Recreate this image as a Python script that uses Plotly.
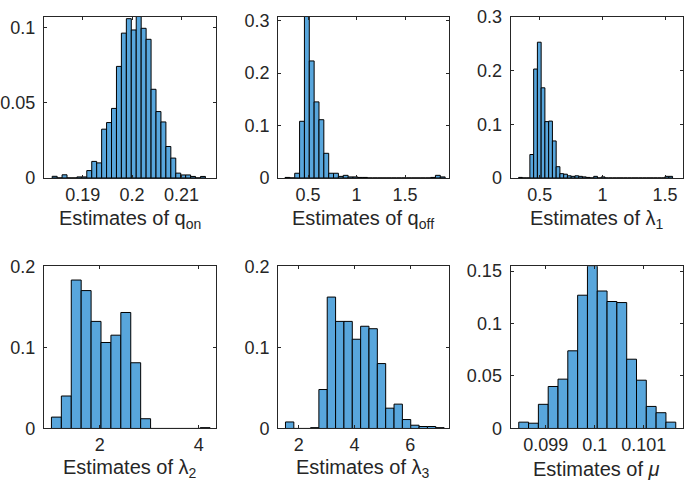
import plotly.graph_objects as go

# ---------------- data (bin start, bin width, probability per bin) ----------------
qon_start = 0.18383
qon_width = 0.001
qon_prob = [0.0011, 0, 0.0021, 0, 0, 0.0007, 0.0007, 0.0049, 0.011, 0.010,
            0.0324, 0.0368, 0.0462, 0.0741, 0.0962, 0.1058, 0.0983, 0.1075,
            0.0994, 0.0921, 0.0589, 0.0441, 0.0372, 0.0209, 0.0132, 0.0032,
            0.002, 0.002, 0.001, 0, 0.001]

qoff_start = 0.2624
qoff_width = 0.05
qoff_prob = [0.001, 0, 0.009, 0.108, 0.316, 0.223, 0.145, 0.111, 0.047, 0.009,
             0.009, 0.003, 0.005, 0.002, 0.002, 0.001, 0.001,
             0, 0, 0, 0, 0, 0, 0, 0, 0, 0, 0, 0, 0,
             0.001, 0.005, 0.002]

lam1_start = 0.3302
lam1_width = 0.03
lam1_prob = [0.001, 0, 0, 0.0437, 0.203, 0.253, 0.168, 0.105, 0.106, 0.069,
             0.021, 0.008, 0.007, 0.004, 0.003, 0.004, 0.003, 0.002, 0.001, 0,
             0.003, 0, 0.002,
             0, 0, 0, 0, 0, 0, 0, 0, 0, 0, 0, 0, 0, 0, 0, 0,
             0.003, 0.003]

lam2_start = 1.028
lam2_width = 0.2
lam2_prob = [0.014, 0.040, 0.183, 0.170, 0.132, 0.106, 0.115, 0.143, 0.081,
             0.012, 0, 0, 0, 0, 0, 0.001]

lam3_start = 1.52
lam3_width = 0.3
lam3_prob = [0.008, 0, 0, 0.001, 0.048, 0.162, 0.132, 0.132, 0.110, 0.126,
             0.123, 0.080, 0.025, 0.030, 0.011, 0.004, 0.0024, 0.0024, 0.001]

mu_start = 0.098451
mu_width = 0.0002
mu_prob = [0.006, 0.005, 0.023, 0.040, 0.047, 0.074, 0.127, 0.155, 0.131,
           0.121, 0.120, 0.066, 0.046, 0.021, 0.015, 0.006]

# tick labels
qon_xticks = [0.19, 0.2, 0.21]
qoff_xticks = [0.5, 1, 1.5]
lam1_xticks = [0.5, 1, 1.5]
lam2_xticks = [2, 4]
lam3_xticks = [2, 4, 6]
mu_xticks = [0.099, 0.1, 0.101]

qon_yticks = [0, 0.05, 0.1]
qoff_yticks = [0, 0.1, 0.2, 0.3]
lam1_yticks = [0, 0.1, 0.2, 0.3]
lam2_yticks = [0, 0.1, 0.2]
lam3_yticks = [0, 0.1, 0.2]
mu_yticks = [0, 0.05, 0.1, 0.15]

titles = ["Estimates of q<sub>on</sub>", "Estimates of q<sub>off</sub>",
          "Estimates of λ<sub>1</sub>", "Estimates of λ<sub>2</sub>",
          "Estimates of λ<sub>3</sub>", "Estimates of <i>μ</i>"]

# ---------------- layout geometry ----------------
W, H = 685, 497
cols_px = [(42, 215), (277, 448), (510, 683.3)]
rows_px = [(7, 175), (267, 436)]
title_off = [43, 42]

panels = [
    (qon_start, qon_width, qon_prob, qon_xticks, qon_yticks, [0.18215, 0.21704], [0, 0.1071]),
    (qoff_start, qoff_width, qoff_prob, qoff_xticks, qoff_yticks, [0.192, 1.949], [0, 0.3073]),
    (lam1_start, lam1_width, lam1_prob, lam1_xticks, lam1_yticks, [0.2654, 1.646], [0, 0.3005]),
    (lam2_start, lam2_width, lam2_prob, lam2_xticks, lam2_yticks, [0.8755, 4.355], [0, 0.2]),
    (lam3_start, lam3_width, lam3_prob, lam3_xticks, lam3_yticks, [1.258, 7.384], [0, 0.2]),
    (mu_start, mu_width, mu_prob, mu_xticks, mu_yticks, [0.098283, 0.101805], [0, 0.1546]),
]

BAR = "rgb(88,166,220)"
AX = "#262626"
FONT = "Liberation Sans, Arial, sans-serif"


def fmt(v):
    s = ("%.6f" % v).rstrip("0").rstrip(".")
    return s if s else "0"


fig = go.Figure()
layout = dict(width=W, height=H, margin=dict(l=0, r=0, t=0, b=0),
              paper_bgcolor="white", plot_bgcolor="white", showlegend=False,
              annotations=[])

for i, (start, width, prob, xt, yt, xr, yr) in enumerate(panels):
    r, c = divmod(i, 3)
    n = "" if i == 0 else str(i + 1)
    centers = [start + width * (k + 0.5) for k in range(len(prob))]
    fig.add_trace(go.Bar(
        x=centers, y=prob, width=width,
        marker=dict(color=BAR, line=dict(color="black", width=1)),
        xaxis="x" + n, yaxis="y" + n, hoverinfo="skip"))
    x0, x1 = cols_px[c]
    y0, y1 = rows_px[r]
    common = dict(showline=True, linecolor=AX, linewidth=1, mirror="ticks",
                  ticks="inside", ticklen=3, tickcolor=AX, tickwidth=1,
                  showgrid=False, zeroline=False,
                  tickfont=dict(family=FONT, size=18, color=AX))
    layout["xaxis" + n] = dict(common, domain=[x0 / W, x1 / W], range=xr,
                               anchor="y" + n, tickvals=xt,
                               ticktext=[fmt(v) for v in xt])
    layout["yaxis" + n] = dict(common, domain=[1 - y1 / H, 1 - y0 / H], range=yr,
                               anchor="x" + n, tickvals=yt,
                               ticktext=[fmt(v) for v in yt],
                               ticklabelstandoff=4)
    layout["annotations"].append(dict(
        text=titles[i], x=(x0 + x1) / 2 / W, y=1 - (y1 + title_off[r]) / H,
        xref="paper", yref="paper", xanchor="center", yanchor="middle",
        showarrow=False, font=dict(family=FONT, size=20, color=AX)))

fig.update_layout(**layout)
fig.write_html("out.html",
               config={"responsive": False, "displayModeBar": False},
               post_script="document.body.style.margin='0';"
                           "document.body.style.overflow='hidden';")
